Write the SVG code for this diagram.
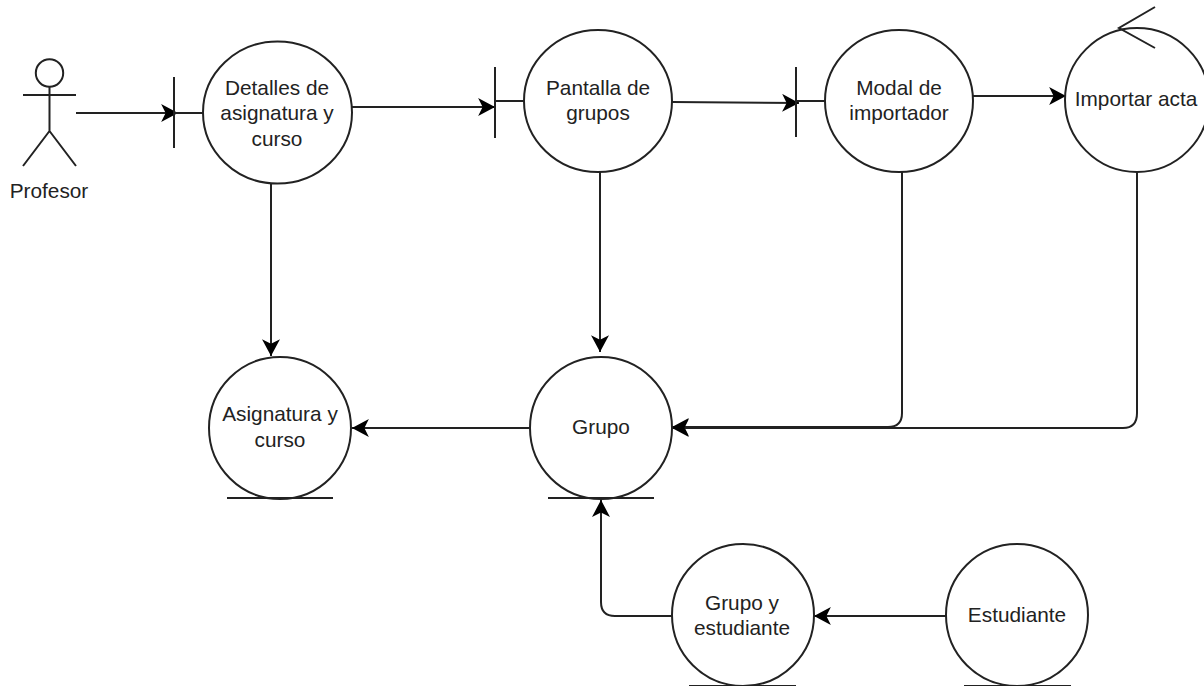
<svg xmlns="http://www.w3.org/2000/svg" width="1204" height="686" viewBox="0 0 1204 686">
<defs><marker id="a" markerUnits="userSpaceOnUse" markerWidth="18" markerHeight="18" refX="15" refY="8" orient="auto" viewBox="0 0 16 16"><path d="M0 0L15 8L0 16L4 8Z" fill="#000"/></marker></defs>
<style>.s{fill:#fff;stroke:#222;stroke-width:2}.l{fill:none;stroke:#222;stroke-width:2}.c{fill:none;stroke:#222;stroke-width:2;marker-end:url(#a)}text{font-family:"Liberation Sans",Arial,sans-serif;font-size:20.8px;text-anchor:middle;fill:#222}</style>
<rect width="1204" height="686" fill="#fff"/>
<g id="connectors">
<path class="c" d="M76 113H178"/>
<path class="c" d="M352 107H495"/>
<path class="c" d="M672 102L799 103"/>
<path class="c" d="M973 96H1066"/>
<path class="c" d="M271 184V356"/>
<path class="c" d="M600 172V352"/>
<path class="c" d="M902 172V413Q902 427 888 427H672"/>
<path class="c" d="M1137 172V413Q1137 428 1123 428H672"/>
<path class="c" d="M529 428H352"/>
<path class="c" d="M672 616H615Q601 616 601 602V500"/>
<path class="c" d="M946 616H814"/>
</g>
<g id="profesor"><circle class="l" cx="49.500" cy="73" r="13.700"/><path class="l" d="M49.500 87V131M23 95H76M49.500 131L23 166M49.500 131L76 166"/><text x="49" y="198">Profesor</text></g>
<g id="detalles"><path class="l" d="M174 77V148M174 113H203"/><ellipse class="s" cx="277.500" cy="112.500" rx="74.500" ry="71"/><text x="277" y="95">Detalles de</text><text x="277" y="120">asignatura y</text><text x="277" y="146">curso</text></g>
<g id="pantalla"><path class="l" d="M495 67V138M495 101H524"/><ellipse class="s" cx="598" cy="101" rx="74" ry="71"/><text x="598" y="95">Pantalla de</text><text x="598" y="120">grupos</text></g>
<g id="modal"><path class="l" d="M796 67V137M796 101H825"/><ellipse class="s" cx="899" cy="101" rx="74" ry="71"/><text x="899" y="95">Modal de</text><text x="899" y="120">importador</text></g>
<g id="importar"><ellipse class="s" cx="1137" cy="100" rx="72" ry="72"/><path class="l" d="M1155 7L1119 28L1155 48"/><text x="1136" y="106">Importar acta</text></g>
<g id="asignatura"><circle class="s" cx="280" cy="428" r="71"/><path class="l" d="M227 498H333"/><text x="280" y="421">Asignatura y</text><text x="280" y="447">curso</text></g>
<g id="grupo"><circle class="s" cx="601" cy="428" r="71"/><path class="l" d="M548 498H654"/><text x="601" y="434">Grupo</text></g>
<g id="grupoest"><circle class="s" cx="743" cy="615" r="71"/><path class="l" d="M689 686H796"/><text x="742" y="610">Grupo y</text><text x="742" y="635">estudiante</text></g>
<g id="estudiante"><circle class="s" cx="1017" cy="615" r="71"/><path class="l" d="M964 686H1071"/><text x="1017" y="622">Estudiante</text></g>
</svg>
